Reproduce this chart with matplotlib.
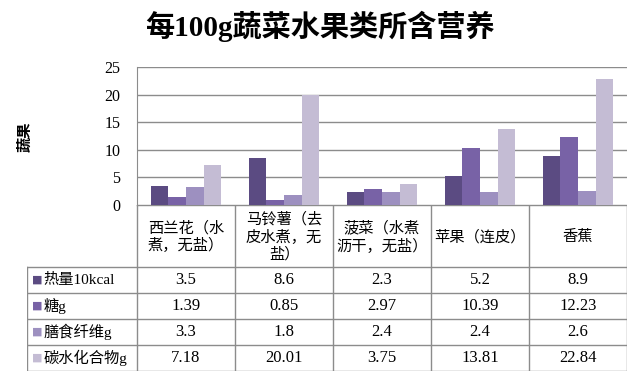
import numpy as np
import matplotlib.pyplot as plt

plt.rcParams['font.family'] = ['Liberation Serif', 'Noto Sans CJK SC', 'DejaVu Sans']

# data
foods = ['西兰花（水\n煮，无盐）', '马铃薯（去\n皮水煮，无\n盐）', '菠菜（水煮\n沥干，无盐）', '苹果（连皮）', '香蕉']
series = ['热量10kcal', '糖g', '膳食纤维g', '碳水化合物g']
heat = [3.5, 8.6, 2.3, 5.2, 8.9]
sugar = [1.39, 0.85, 2.97, 10.39, 12.23]
fiber = [3.3, 1.8, 2.4, 2.4, 2.6]
carbs = [7.18, 20.01, 3.75, 13.81, 22.84]
labels = [['3.5', '8.6', '2.3', '5.2', '8.9'],
          ['1.39', '0.85', '2.97', '10.39', '12.23'],
          ['3.3', '1.8', '2.4', '2.4', '2.6'],
          ['7.18', '20.01', '3.75', '13.81', '22.84']]
colors = ['#5b4b82', '#7862a6', '#9d90c0', '#c4bcd4']

W, H = 640, 389
fig = plt.figure(figsize=(W / 100, H / 100), dpi=100)

# main chart
ax = fig.add_axes([137 / W, 1 - 205 / H, 490 / W, 138 / H])
x = np.arange(len(foods))
bw = 0.18
for i, vals in enumerate([heat, sugar, fiber, carbs]):
    ax.bar(x + (i - 1.5) * bw, vals, bw, color=colors[i], zorder=3)
ax.set_xlim(-0.5, 4.5)
ax.set_ylim(0, 25)
ax.set_yticks([0, 5, 10, 15, 20, 25])
ax.yaxis.grid(True, color='#8c8c8c', lw=1, zorder=0)
ax.set_xticks([])
ax.tick_params(axis='y', length=0, labelsize=11.5, pad=12)
for s in ['top', 'right', 'bottom']:
    ax.spines[s].set_visible(False)
ax.spines['left'].set_color('#8c8c8c')

fig.text(25 / W, 1 - 137 / H, '蔬果', rotation=90, ha='center', va='center',
         fontsize=11, fontweight='bold')
fig.text(320 / W, 1 - 26 / H, '每100g蔬菜水果类所含营养', ha='center', va='center',
         fontsize=21, fontweight='bold')

# table below
lab_w = 110 / 98
tx = fig.add_axes([27 / W, 1 - 371 / H, 600 / W, 166 / H])
tx.set_xlim(-0.5 - lab_w, 4.5)
tx.set_ylim(371, 205)
tx.axis('off')
row_y = [205, 267, 293, 319, 345, 371]
col_x = [-0.5 - lab_w] + [c - 0.5 for c in range(6)]
gc = '#8c8c8c'
# horizontal lines
tx.plot([-0.5, 4.5], [205, 205], color=gc, lw=1)
for yy in row_y[1:]:
    tx.plot([col_x[0], 4.5], [yy, yy], color=gc, lw=1)
# vertical lines
tx.plot([col_x[0], col_x[0]], [267, 371], color=gc, lw=1)
for xx in col_x[1:]:
    tx.plot([xx, xx], [205, 371], color=gc, lw=1)

for c, f in enumerate(foods):
    tx.text(c, 237, f, ha='center', va='center', fontsize=11, linespacing=1.25,
            multialignment='center')

for r in range(4):
    yc = (row_y[r + 1] + row_y[r + 2]) / 2
    tx.text(col_x[0] + 0.05, yc, '■', color=colors[r], ha='left', va='center',
            fontsize=8, family='DejaVu Sans')
    tx.text(col_x[0] + 0.17, yc, series[r], ha='left', va='center', fontsize=11)
    for c in range(5):
        tx.text(c, yc, labels[r][c], ha='center', va='center', fontsize=12)

fig.savefig('out.png', dpi=100)
